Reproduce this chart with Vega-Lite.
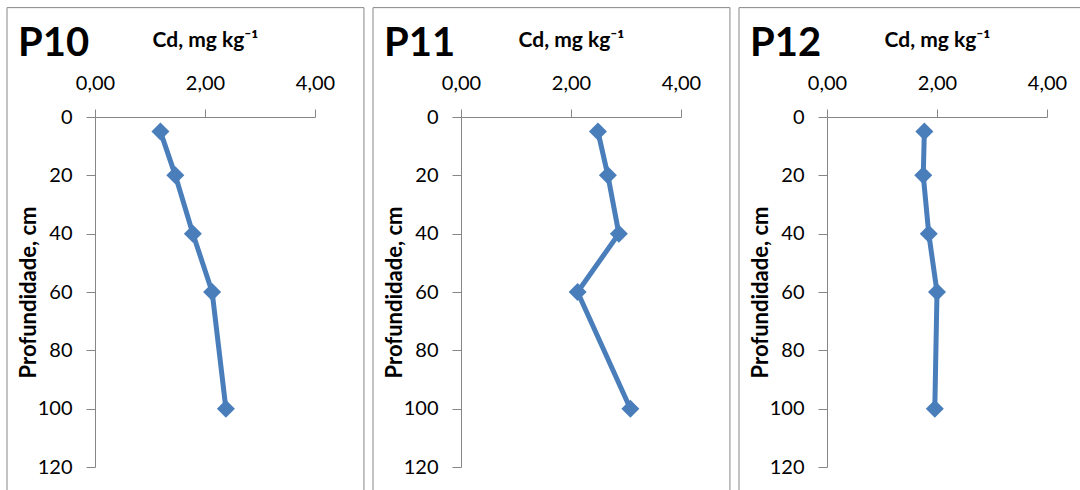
{
  "$schema": "https://vega.github.io/schema/vega-lite/v6.json",
  "background": "white",
  "padding": {"left": 6, "top": 7, "right": 0, "bottom": 0},
  "spacing": 7,
  "datasets": {
    "cd": [
      {"panel": "P10", "depth": 5, "cd": 1.19},
      {"panel": "P10", "depth": 20, "cd": 1.46},
      {"panel": "P10", "depth": 40, "cd": 1.78},
      {"panel": "P10", "depth": 60, "cd": 2.13},
      {"panel": "P10", "depth": 100, "cd": 2.38},
      {"panel": "P11", "depth": 5, "cd": 2.49},
      {"panel": "P11", "depth": 20, "cd": 2.67},
      {"panel": "P11", "depth": 40, "cd": 2.87},
      {"panel": "P11", "depth": 60, "cd": 2.12},
      {"panel": "P11", "depth": 100, "cd": 3.08},
      {"panel": "P12", "depth": 5, "cd": 1.77},
      {"panel": "P12", "depth": 20, "cd": 1.75},
      {"panel": "P12", "depth": 40, "cd": 1.85},
      {"panel": "P12", "depth": 60, "cd": 2.0},
      {"panel": "P12", "depth": 100, "cd": 1.96}
    ]
  },
  "config": {
    "view": {"stroke": null},
    "axis": {"grid": false, "labelFont": "Lato", "labelFontSize": 20, "labelColor": "black", "labelFlush": false, "labelOverlap": false,
             "titleFont": "Lato", "titleFontWeight": "bold", "titleColor": "black", "tickColor": "#868686", "domainColor": "#868686"},
    "axisX": {"titleFontSize": 21, "titlePadding": 23, "labelPadding": 16, "tickSize": 8},
    "axisY": {"titleFontSize": 22, "titlePadding": -3, "labelPadding": 14, "tickSize": 9}
  },
  "hconcat": [
    {
      "width": 220, "height": 350,
      "layer": [
        {"data": {"values": [{}]},
         "mark": {"type": "rect", "filled": false, "stroke": "#868686", "strokeWidth": 1, "clip": false},
         "encoding": {
           "x": {"datum": -1.6, "type": "quantitative", "scale": {"domain": [0, 4], "nice": false, "zero": false}, "axis": {"orient": "top", "title": "Cd, mg kg⁻¹", "values": [0, 2, 4], "labelExpr": "replace(format(datum.value, '.2f'), '.', ',')"}},
           "x2": {"datum": 4.89},
           "y": {"datum": -37.5, "type": "quantitative", "scale": {"domain": [0, 120], "nice": false, "reverse": true}, "axis": {"orient": "left", "title": "Profundidade, cm", "values": [0, 20, 40, 60, 80, 100, 120]}},
           "y2": {"datum": 133}
         }},
        {"data": {"values": [{"label": "P10"}]},
         "mark": {"type": "text", "font": "Lato", "fontSize": 40, "fontWeight": "bold", "align": "left", "baseline": "alphabetic", "color": "black", "clip": false},
         "encoding": {
           "x": {"datum": -1.4, "type": "quantitative", "scale": {"domain": [0, 4], "nice": false, "zero": false}, "axis": {"orient": "top", "title": "Cd, mg kg⁻¹", "values": [0, 2, 4], "labelExpr": "replace(format(datum.value, '.2f'), '.', ',')"}},
           "y": {"datum": -20.8, "type": "quantitative", "scale": {"domain": [0, 120], "nice": false, "reverse": true}, "axis": {"orient": "left", "title": "Profundidade, cm", "values": [0, 20, 40, 60, 80, 100, 120]}},
           "text": {"field": "label"}
         }},
        {"data": {"name": "cd"},
         "transform": [{"filter": "datum.panel == 'P10'"}],
         "mark": {"type": "line", "color": "#4A7EBB", "strokeWidth": 5, "clip": false,
                  "point": {"shape": "diamond", "size": 324, "filled": true, "color": "#4A7EBB"}},
         "encoding": {
           "x": {"field": "cd", "type": "quantitative", "scale": {"domain": [0, 4], "nice": false, "zero": false}, "axis": {"orient": "top", "title": "Cd, mg kg⁻¹", "values": [0, 2, 4], "labelExpr": "replace(format(datum.value, '.2f'), '.', ',')"}},
           "y": {"field": "depth", "type": "quantitative", "scale": {"domain": [0, 120], "nice": false, "reverse": true}, "axis": {"orient": "left", "title": "Profundidade, cm", "values": [0, 20, 40, 60, 80, 100, 120]}},
           "order": {"field": "depth", "type": "quantitative"}
         }}
      ]
    },
    {
      "width": 220, "height": 350,
      "layer": [
        {"data": {"values": [{}]},
         "mark": {"type": "rect", "filled": false, "stroke": "#868686", "strokeWidth": 1, "clip": false},
         "encoding": {
           "x": {"datum": -1.6, "type": "quantitative", "scale": {"domain": [0, 4], "nice": false, "zero": false}, "axis": {"orient": "top", "title": "Cd, mg kg⁻¹", "values": [0, 2, 4], "labelExpr": "replace(format(datum.value, '.2f'), '.', ',')"}},
           "x2": {"datum": 4.89},
           "y": {"datum": -37.5, "type": "quantitative", "scale": {"domain": [0, 120], "nice": false, "reverse": true}, "axis": {"orient": "left", "title": "Profundidade, cm", "values": [0, 20, 40, 60, 80, 100, 120]}},
           "y2": {"datum": 133}
         }},
        {"data": {"values": [{"label": "P11"}]},
         "mark": {"type": "text", "font": "Lato", "fontSize": 40, "fontWeight": "bold", "align": "left", "baseline": "alphabetic", "color": "black", "clip": false},
         "encoding": {
           "x": {"datum": -1.4, "type": "quantitative", "scale": {"domain": [0, 4], "nice": false, "zero": false}, "axis": {"orient": "top", "title": "Cd, mg kg⁻¹", "values": [0, 2, 4], "labelExpr": "replace(format(datum.value, '.2f'), '.', ',')"}},
           "y": {"datum": -20.8, "type": "quantitative", "scale": {"domain": [0, 120], "nice": false, "reverse": true}, "axis": {"orient": "left", "title": "Profundidade, cm", "values": [0, 20, 40, 60, 80, 100, 120]}},
           "text": {"field": "label"}
         }},
        {"data": {"name": "cd"},
         "transform": [{"filter": "datum.panel == 'P11'"}],
         "mark": {"type": "line", "color": "#4A7EBB", "strokeWidth": 5, "clip": false,
                  "point": {"shape": "diamond", "size": 324, "filled": true, "color": "#4A7EBB"}},
         "encoding": {
           "x": {"field": "cd", "type": "quantitative", "scale": {"domain": [0, 4], "nice": false, "zero": false}, "axis": {"orient": "top", "title": "Cd, mg kg⁻¹", "values": [0, 2, 4], "labelExpr": "replace(format(datum.value, '.2f'), '.', ',')"}},
           "y": {"field": "depth", "type": "quantitative", "scale": {"domain": [0, 120], "nice": false, "reverse": true}, "axis": {"orient": "left", "title": "Profundidade, cm", "values": [0, 20, 40, 60, 80, 100, 120]}},
           "order": {"field": "depth", "type": "quantitative"}
         }}
      ]
    },
    {
      "width": 220, "height": 350,
      "layer": [
        {"data": {"values": [{}]},
         "mark": {"type": "rect", "filled": false, "stroke": "#868686", "strokeWidth": 1, "clip": false},
         "encoding": {
           "x": {"datum": -1.6, "type": "quantitative", "scale": {"domain": [0, 4], "nice": false, "zero": false}, "axis": {"orient": "top", "title": "Cd, mg kg⁻¹", "values": [0, 2, 4], "labelExpr": "replace(format(datum.value, '.2f'), '.', ',')"}},
           "x2": {"datum": 4.89},
           "y": {"datum": -37.5, "type": "quantitative", "scale": {"domain": [0, 120], "nice": false, "reverse": true}, "axis": {"orient": "left", "title": "Profundidade, cm", "values": [0, 20, 40, 60, 80, 100, 120]}},
           "y2": {"datum": 133}
         }},
        {"data": {"values": [{"label": "P12"}]},
         "mark": {"type": "text", "font": "Lato", "fontSize": 40, "fontWeight": "bold", "align": "left", "baseline": "alphabetic", "color": "black", "clip": false},
         "encoding": {
           "x": {"datum": -1.4, "type": "quantitative", "scale": {"domain": [0, 4], "nice": false, "zero": false}, "axis": {"orient": "top", "title": "Cd, mg kg⁻¹", "values": [0, 2, 4], "labelExpr": "replace(format(datum.value, '.2f'), '.', ',')"}},
           "y": {"datum": -20.8, "type": "quantitative", "scale": {"domain": [0, 120], "nice": false, "reverse": true}, "axis": {"orient": "left", "title": "Profundidade, cm", "values": [0, 20, 40, 60, 80, 100, 120]}},
           "text": {"field": "label"}
         }},
        {"data": {"name": "cd"},
         "transform": [{"filter": "datum.panel == 'P12'"}],
         "mark": {"type": "line", "color": "#4A7EBB", "strokeWidth": 5, "clip": false,
                  "point": {"shape": "diamond", "size": 324, "filled": true, "color": "#4A7EBB"}},
         "encoding": {
           "x": {"field": "cd", "type": "quantitative", "scale": {"domain": [0, 4], "nice": false, "zero": false}, "axis": {"orient": "top", "title": "Cd, mg kg⁻¹", "values": [0, 2, 4], "labelExpr": "replace(format(datum.value, '.2f'), '.', ',')"}},
           "y": {"field": "depth", "type": "quantitative", "scale": {"domain": [0, 120], "nice": false, "reverse": true}, "axis": {"orient": "left", "title": "Profundidade, cm", "values": [0, 20, 40, 60, 80, 100, 120]}},
           "order": {"field": "depth", "type": "quantitative"}
         }}
      ]
    }
  ]
}
